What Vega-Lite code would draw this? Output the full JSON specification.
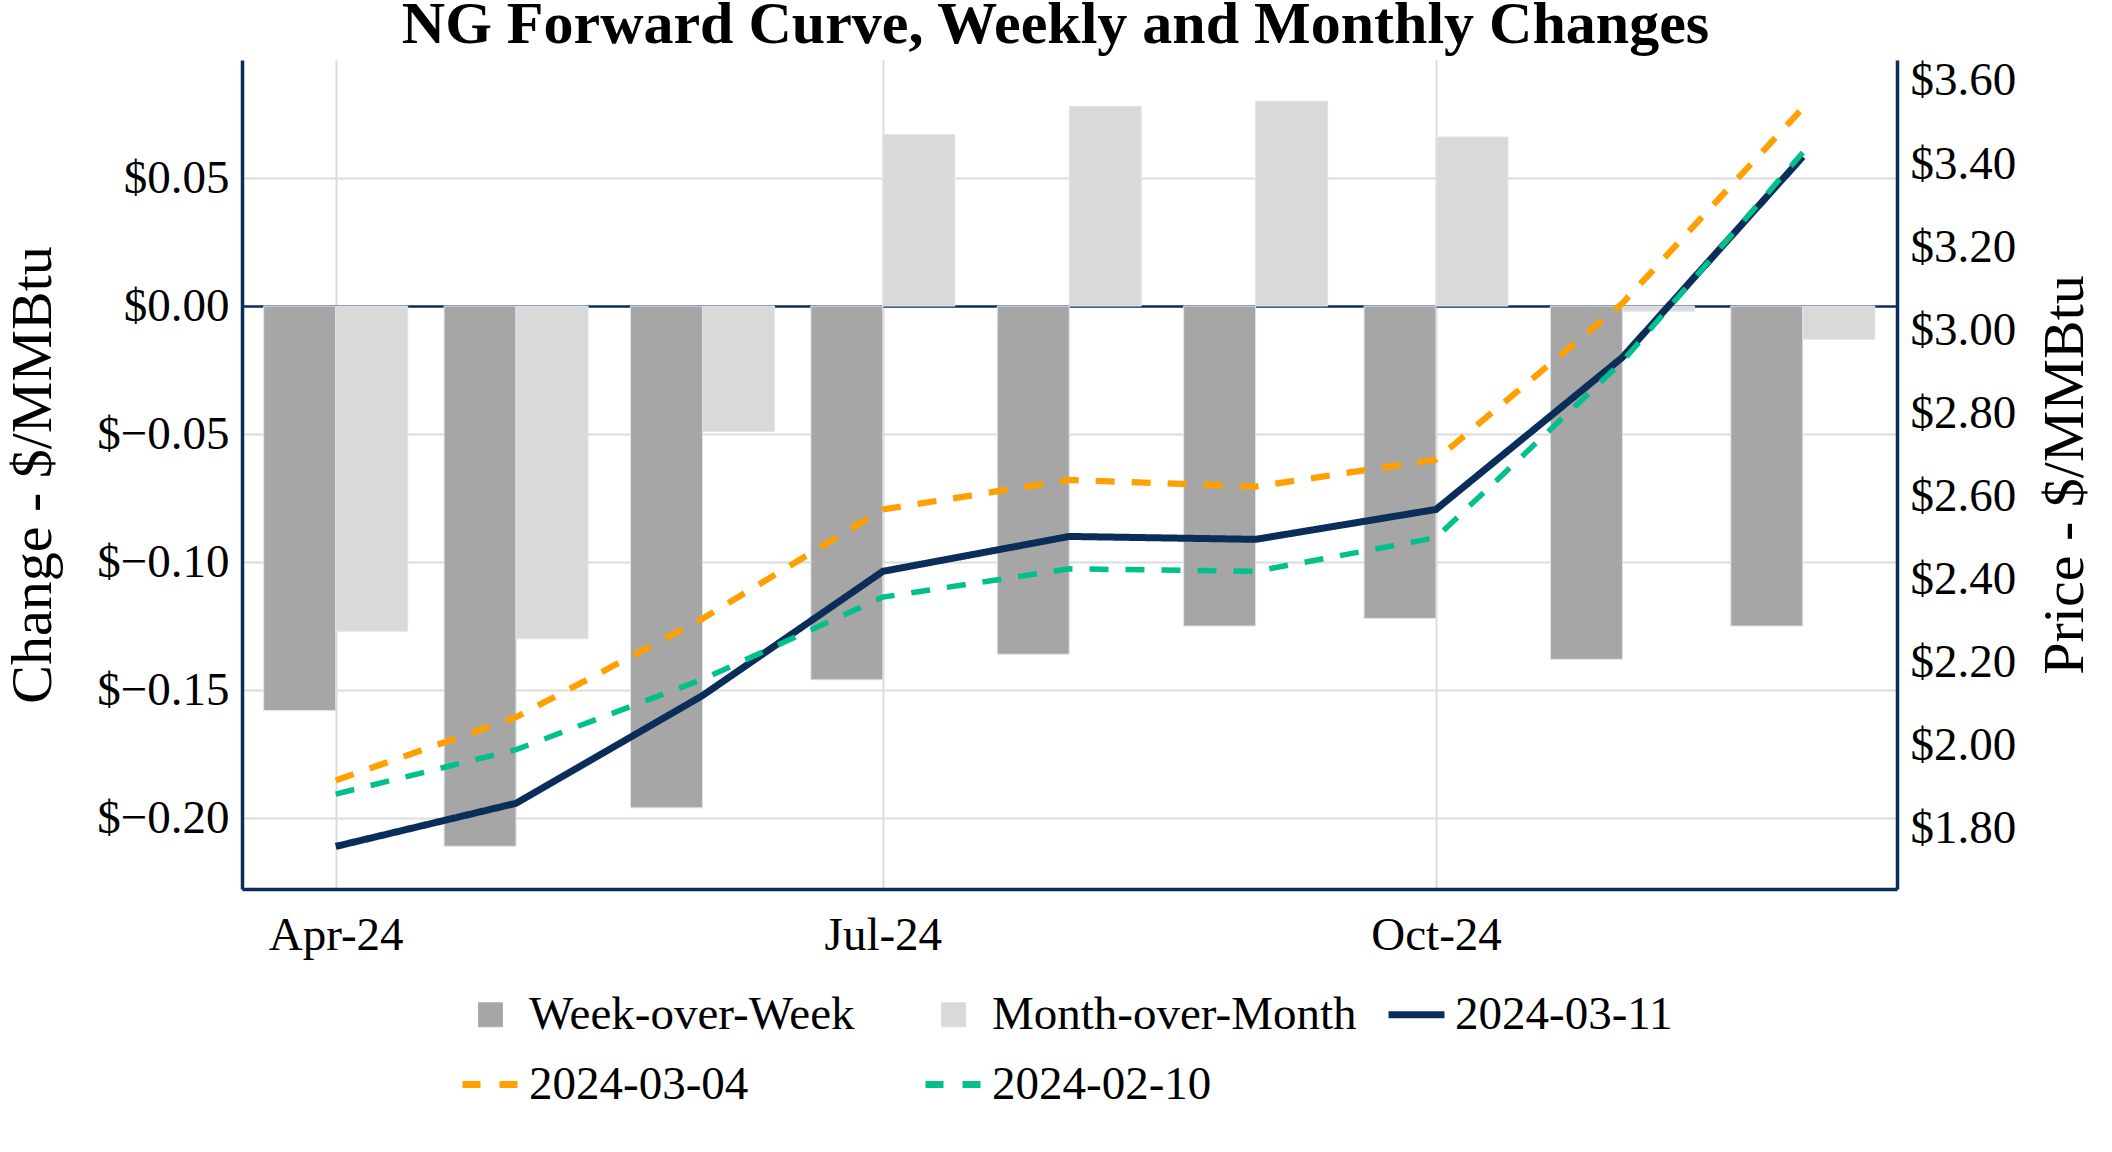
{
  "$schema": "https://vega.github.io/schema/vega-lite/v6.json",
  "width": 1655,
  "height": 829,
  "autosize": {"type": "none"},
  "padding": {"left": 242, "top": 60, "right": 215, "bottom": 263},
  "background": "white",
  "config": {"view": {"stroke": null}, "font": "Liberation Serif"},
  "title": {
    "text": "NG Forward Curve, Weekly and Monthly Changes",
    "font": "Liberation Serif",
    "fontSize": 60,
    "fontWeight": "bold",
    "color": "black",
    "anchor": "middle",
    "frame": "group",
    "baseline": "alphabetic",
    "offset": -46,
    "dx": -14
  },
  "data": {
    "values": [
      {"month": "2024-04-01", "series": "Week-over-Week", "value": -0.158},
      {"month": "2024-05-01", "series": "Week-over-Week", "value": -0.211},
      {"month": "2024-06-01", "series": "Week-over-Week", "value": -0.196},
      {"month": "2024-07-01", "series": "Week-over-Week", "value": -0.146},
      {"month": "2024-08-01", "series": "Week-over-Week", "value": -0.136},
      {"month": "2024-09-01", "series": "Week-over-Week", "value": -0.125},
      {"month": "2024-10-01", "series": "Week-over-Week", "value": -0.122},
      {"month": "2024-11-01", "series": "Week-over-Week", "value": -0.138},
      {"month": "2024-12-01", "series": "Week-over-Week", "value": -0.125},
      {"month": "2024-04-01", "series": "Month-over-Month", "value": -0.127},
      {"month": "2024-05-01", "series": "Month-over-Month", "value": -0.130},
      {"month": "2024-06-01", "series": "Month-over-Month", "value": -0.049},
      {"month": "2024-07-01", "series": "Month-over-Month", "value": 0.067},
      {"month": "2024-08-01", "series": "Month-over-Month", "value": 0.078},
      {"month": "2024-09-01", "series": "Month-over-Month", "value": 0.080},
      {"month": "2024-10-01", "series": "Month-over-Month", "value": 0.066},
      {"month": "2024-11-01", "series": "Month-over-Month", "value": -0.002},
      {"month": "2024-12-01", "series": "Month-over-Month", "value": -0.013},
      {"month": "2024-04-01", "series": "2024-03-11", "value": 1.758},
      {"month": "2024-05-01", "series": "2024-03-11", "value": 1.862},
      {"month": "2024-06-01", "series": "2024-03-11", "value": 2.121},
      {"month": "2024-07-01", "series": "2024-03-11", "value": 2.420},
      {"month": "2024-08-01", "series": "2024-03-11", "value": 2.504},
      {"month": "2024-09-01", "series": "2024-03-11", "value": 2.497},
      {"month": "2024-10-01", "series": "2024-03-11", "value": 2.569},
      {"month": "2024-11-01", "series": "2024-03-11", "value": 2.935},
      {"month": "2024-12-01", "series": "2024-03-11", "value": 3.418},
      {"month": "2024-04-01", "series": "2024-03-04", "value": 1.917},
      {"month": "2024-05-01", "series": "2024-03-04", "value": 2.069},
      {"month": "2024-06-01", "series": "2024-03-04", "value": 2.306},
      {"month": "2024-07-01", "series": "2024-03-04", "value": 2.569},
      {"month": "2024-08-01", "series": "2024-03-04", "value": 2.640},
      {"month": "2024-09-01", "series": "2024-03-04", "value": 2.624},
      {"month": "2024-10-01", "series": "2024-03-04", "value": 2.689},
      {"month": "2024-11-01", "series": "2024-03-04", "value": 3.065},
      {"month": "2024-12-01", "series": "2024-03-04", "value": 3.535},
      {"month": "2024-04-01", "series": "2024-02-10", "value": 1.884},
      {"month": "2024-05-01", "series": "2024-02-10", "value": 1.991},
      {"month": "2024-06-01", "series": "2024-02-10", "value": 2.160},
      {"month": "2024-07-01", "series": "2024-02-10", "value": 2.358},
      {"month": "2024-08-01", "series": "2024-02-10", "value": 2.426},
      {"month": "2024-09-01", "series": "2024-02-10", "value": 2.420},
      {"month": "2024-10-01", "series": "2024-02-10", "value": 2.501},
      {"month": "2024-11-01", "series": "2024-02-10", "value": 2.925},
      {"month": "2024-12-01", "series": "2024-02-10", "value": 3.428}
    ]
  },
  "encoding": {
    "x": {
      "field": "month",
      "type": "temporal",
      "scale": {
        "type": "utc",
        "domain": [
          {"year": 2024, "month": 3, "date": 17, "hours": 6, "utc": true},
          {"year": 2024, "month": 12, "date": 15, "hours": 20, "utc": true}
        ]
      },
      "axis": {
        "values": [
          {"year": 2024, "month": 4, "date": 1, "utc": true},
          {"year": 2024, "month": 7, "date": 1, "utc": true},
          {"year": 2024, "month": 10, "date": 1, "utc": true}
        ],
        "labelExpr": "utcFormat(datum.value, '%b-%y')",
        "labelFont": "Liberation Serif",
        "labelFontSize": 47,
        "labelColor": "black",
        "labelPadding": 23,
        "labelFlush": false,
        "labelOverlap": false,
        "ticks": false,
        "tickSize": 0,
        "domainColor": "#0a2d5a",
        "domainWidth": 3.5,
        "grid": true,
        "gridColor": "#dcdcdc",
        "gridWidth": 2,
        "title": null
      }
    },
    "color": {
      "field": "series",
      "type": "nominal",
      "scale": {
        "domain": ["Week-over-Week", "Month-over-Month", "2024-03-11", "2024-03-04", "2024-02-10"],
        "range": ["#a6a6a6", "#d9d9d9", "#0a2d5a", "#ffa000", "#00c08b"]
      },
      "legend": {
        "orient": "none",
        "legendX": 225,
        "legendY": 931,
        "direction": "horizontal",
        "columns": 3,
        "gridAlign": "all",
        "columnPadding": 17,
        "rowPadding": 22,
        "title": null,
        "labelFont": "Liberation Serif",
        "labelFontSize": 47,
        "labelColor": "black",
        "labelOffset": 15,
        "labelLimit": 1000,
        "symbolSize": 3136,
        "symbolStrokeWidth": 7,
        "encode": {
          "symbols": {
            "update": {
              "shape": {"signal": "indexof(['Week-over-Week','Month-over-Month'], datum.value) >= 0 ? 'square' : 'stroke'"},
              "size": {"signal": "indexof(['Week-over-Week','Month-over-Month'], datum.value) >= 0 ? 576 : 3136"},
              "fill": {"signal": "indexof(['Week-over-Week','Month-over-Month'], datum.value) >= 0 ? scale('color', datum.value) : 'transparent'"},
              "stroke": {"signal": "indexof(['Week-over-Week','Month-over-Month'], datum.value) >= 0 ? '#dfe5ee' : scale('color', datum.value)"},
              "strokeWidth": {"signal": "indexof(['Week-over-Week','Month-over-Month'], datum.value) >= 0 ? 1 : 7"},
              "strokeDash": {"signal": "indexof(['2024-03-04','2024-02-10'], datum.value) >= 0 ? [18, 19] : [1, 0]"},
              "opacity": {"value": 1}
            }
          }
        }
      }
    }
  },
  "layer": [
    {
      "encoding": {
        "y": {
          "field": "value",
          "type": "quantitative",
          "scale": {"domain": [-0.2277, 0.0961], "nice": false},
          "axis": {
            "orient": "left",
            "values": [-0.2, -0.15, -0.1, -0.05, 0, 0.05],
            "labelExpr": "'$' + format(datum.value, '.2f')",
            "labelFont": "Liberation Serif",
            "labelFontSize": 47,
            "labelColor": "black",
            "labelPadding": 13,
            "ticks": false,
            "tickSize": 0,
            "domainColor": "#0a2d5a",
            "domainWidth": 3.5,
            "grid": true,
            "gridColor": {"condition": {"test": "datum.value === 0", "value": "#0a2d5a"}, "value": "#dcdcdc"},
            "gridWidth": {"condition": {"test": "datum.value === 0", "value": 2.5}, "value": 2},
            "title": "Change - $/MMBtu",
            "titleFont": "Liberation Serif",
            "titleFontSize": 58,
            "titleFontWeight": "normal",
            "titleColor": "black",
            "titlePadding": 34
          }
        },
        "y2": {"datum": 0}
      },
      "layer": [
        {
          "transform": [{"filter": "datum.series == 'Week-over-Week'"}],
          "mark": {"type": "bar", "width": 72, "xOffset": -36, "stroke": "#dfe5ee", "strokeWidth": 1}
        },
        {
          "transform": [{"filter": "datum.series == 'Month-over-Month'"}],
          "mark": {"type": "bar", "width": 72, "xOffset": 36, "stroke": "#dfe5ee", "strokeWidth": 1}
        }
      ]
    },
    {
      "transform": [{"filter": "indexof(['2024-03-11','2024-03-04','2024-02-10'], datum.series) >= 0"}],
      "mark": {"type": "line"},
      "encoding": {
        "y": {
          "field": "value",
          "type": "quantitative",
          "scale": {"domain": [1.6556, 3.6505], "nice": false, "zero": false},
          "axis": {
            "orient": "right",
            "values": [1.8, 2.0, 2.2, 2.4, 2.6, 2.8, 3.0, 3.2, 3.4, 3.6],
            "labelExpr": "'$' + format(datum.value, '.2f')",
            "labelFont": "Liberation Serif",
            "labelFontSize": 47,
            "labelColor": "black",
            "labelPadding": 13,
            "ticks": false,
            "tickSize": 0,
            "domainColor": "#0a2d5a",
            "domainWidth": 3.5,
            "grid": false,
            "title": "Price - $/MMBtu",
            "titleFont": "Liberation Serif",
            "titleFontSize": 58,
            "titleFontWeight": "normal",
            "titleColor": "black",
            "titleAngle": -90,
            "titleBaseline": "top",
            "titlePadding": 21
          }
        },
        "strokeDash": {
          "field": "series",
          "type": "nominal",
          "scale": {"domain": ["2024-03-11", "2024-03-04", "2024-02-10"], "range": [[1, 0], [19, 17], [19, 17]]},
          "legend": null
        },
        "strokeWidth": {
          "field": "series",
          "type": "nominal",
          "scale": {"domain": ["2024-03-11", "2024-03-04", "2024-02-10"], "range": [7, 5.5, 5.5]},
          "legend": null
        }
      }
    }
  ],
  "resolve": {"scale": {"y": "independent"}}
}
